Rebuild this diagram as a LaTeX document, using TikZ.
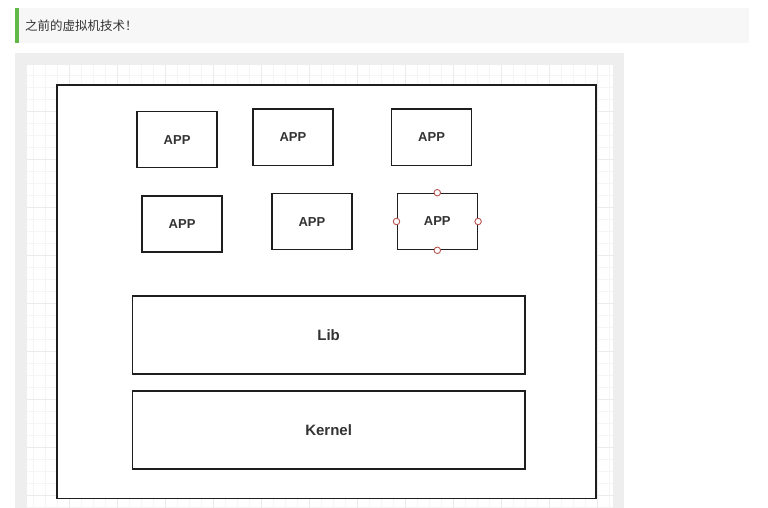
\documentclass[tikz,border=0pt]{standalone}
\usepackage{fontspec}
\setmainfont{Liberation Sans}
\newfontfamily\cjkfont{Noto Sans CJK SC}
\usetikzlibrary{positioning}
\definecolor{gridminor}{HTML}{F5F5F5}
\definecolor{gridmajor}{HTML}{EBEBEB}
\definecolor{panelgrey}{HTML}{EEEEEE}
\definecolor{headgrey}{HTML}{F7F7F7}
\definecolor{barcolour}{HTML}{62B847}
\definecolor{boxline}{HTML}{1E1E1E}
\definecolor{labeltext}{HTML}{333333}
\definecolor{handle}{HTML}{B85450}
\tikzstyle{app} = [draw=boxline, line width=1.6pt, minimum width=80pt, minimum height=56pt, inner sep=0pt, text=labeltext, font=\fontsize{13}{15}\selectfont\bfseries]
\tikzstyle{layer} = [draw=boxline, line width=1.6pt, minimum width=392.6pt, minimum height=77.8pt, inner sep=0pt, text=labeltext, font=\fontsize{15}{18}\selectfont\bfseries]
\tikzstyle{hnd} = [circle, draw=handle, fill=white, line width=0.9pt, minimum size=6.5pt, inner sep=0pt]
\pgfdeclarelayer{background}
\pgfsetlayers{background,main}

\begin{document}
\begin{tikzpicture}[x=1pt, y=-1pt]
    \useasboundingbox (0,0) rectangle (768,508);

    % header bar
    \fill[headgrey] (15,8) rectangle (749,43);
    \fill[barcolour] (15,8) rectangle (18.5,43);
    \node (title) [anchor=west, inner sep=0pt, text=labeltext, font=\cjkfont\fontsize{12.5}{14}\selectfont] at (25,26) {之前的虚拟机技术！};

    \node (frame) [draw=boxline, line width=1.8pt, minimum width=539pt, minimum height=413.6pt, inner sep=0pt] at (326.5,291.7) {};

    \path (frame.north west)+(121,55.6) node (app1) [app] {APP};
    \path (frame.north west)+(236.8,53.3) node (app2) [app] {APP};
    \path (frame.north west)+(375.5,53.3) node (app3) [app] {APP};
    \path (frame.north west)+(126,140) node (app4) [app] {APP};
    \path (frame.north west)+(255.8,137.6) node (app5) [app] {APP};
    \path (frame.north west)+(381.2,137.5) node (app6) [app] {APP};

    \path (frame.north west)+(272.5,250.8) node (lib) [layer] {Lib};
    \path (lib.south)+(0,55.3) node (kernel) [layer] {Kernel};

    \foreach \a in {north,south,east,west}
    {
        \node (hnd-\a) [hnd] at (app6.\a) {};
    }

    \begin{pgfonlayer}{background}
        \fill[panelgrey] (15,53) rectangle (624,508);
        \fill[white] (27,65) rectangle (612.5,508);
        \foreach \k in {0,...,48}
        {
            \draw[gridminor, line width=0.8pt] ({33.5+12*\k},65) -- ({33.5+12*\k},508);
        }
        \foreach \k in {1,...,37}
        {
            \draw[gridminor, line width=0.8pt] (27,{63+12*\k}) -- (612.5,{63+12*\k});
        }
        \foreach \k in {1,...,12}
        {
            \draw[gridmajor, line width=0.8pt] ({21.5+48*\k},65) -- ({21.5+48*\k},508);
        }
        \foreach \k in {1,...,9}
        {
            \draw[gridmajor, line width=0.8pt] (27,{63+48*\k}) -- (612.5,{63+48*\k});
        }
        \fill[white] (frame.north west) rectangle (frame.south east);
    \end{pgfonlayer}
\end{tikzpicture}
\end{document}
